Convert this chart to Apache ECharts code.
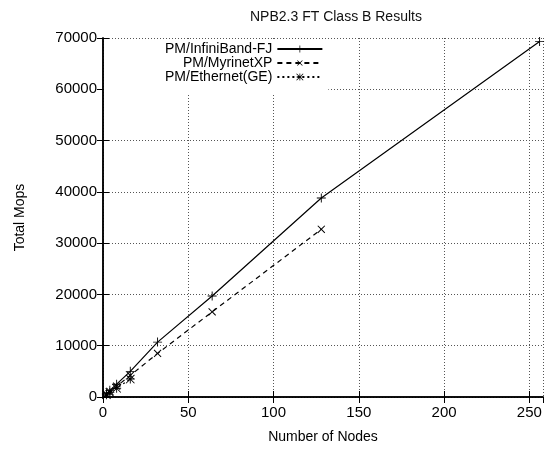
<!DOCTYPE html>
<html>
<head>
<meta charset="utf-8">
<title>NPB2.3 FT Class B Results</title>
<script src="https://cdn.jsdelivr.net/npm/echarts@6/dist/echarts.min.js"></script>
<style>
html,body{margin:0;padding:0;background:#fff}
#main{width:555px;height:449px}
</style>
</head>
<body>
<div id="main"></div>
<script>
// data
var nodes = [2, 4, 8, 16, 32, 64, 128, 256]
var infiniband = [650, 1300, 2500, 5000, 10700, 19700, 38800, 69300]
var myrinet = [550, 1100, 2100, 4200, 8500, 16600, 32700]
var ethernet = [450, 900, 1700, 3500]
var seriesNames = ['PM/InfiniBand-FJ', 'PM/MyrinetXP', 'PM/Ethernet(GE)']

var FONT = 'Liberation Sans'
var PLUS = 'path://M4.5,0H5.5V4.5H10V5.5H5.5V10H4.5V5.5H0V4.5H4.5Z'
var STAR = 'path://M4.5,0H5.5V10H4.5Z M0,4.5H10V5.5H0Z M0.7,0L10,9.3L9.3,10L0,0.7Z M9.3,0L10,0.7L0.7,10L0,9.3Z'

function pairs(xs, ys){   // [x,y] points for a value axis
	var out = []
	for (var i = 0; i < ys.length; i++) out.push([xs[i], ys[i]])
	return out
}

function borderAxis(extra){
	var ax = {
		type: 'value',
		axisLine: {show: true, lineStyle: {color: '#000', width: 1.5}},
		axisTick: {show: true, inside: true, length: 6, lineStyle: {color: '#000'}},
		axisLabel: {show: false},
		splitLine: {show: false}
	}
	for (var k in extra) ax[k] = extra[k]
	return ax
}

var gridLine = {show: true, lineStyle: {color: '#555', width: 1, type: [1, 2]}}

var option = {
	animation: false,
	backgroundColor: '#fff',
	textStyle: {fontFamily: FONT, color: '#000'},
	title: {
		text: 'NPB2.3 FT Class B Results',
		left: 245,
		top: 5,
		textStyle: {fontFamily: FONT, fontSize: 14, fontWeight: 'normal', color: '#111'}
	},
	grid: {left: 103, right: 12, top: 38, bottom: 52, containLabel: false},
	legend: {
		orient: 'vertical',
		align: 'right',
		left: 104,
		top: 40,
		padding: [2, 5, 10, 61],
		itemGap: 0,
		itemWidth: 45,
		itemHeight: 9,
		backgroundColor: '#fff',
		textStyle: {fontFamily: FONT, fontSize: 14, color: '#000'},
		data: seriesNames
	},
	xAxis: [
		borderAxis({
			min: 0, max: 258, interval: 50,
			name: 'Number of Nodes',
			nameLocation: 'middle',
			nameGap: 33,
			nameTextStyle: {fontFamily: FONT, fontSize: 14, color: '#000', verticalAlign: 'top'},
			axisLabel: {show: true, margin: 8, fontFamily: FONT, fontSize: 15, color: '#000', showMaxLabel: false},
			splitLine: gridLine
		}),
		borderAxis({min: 0, max: 258, interval: 50, position: 'top'})
	],
	yAxis: [
		borderAxis({
			min: 0, max: 70000, interval: 10000,
			name: 'Total Mops',
			nameLocation: 'middle',
			nameGap: 76,
			nameTextStyle: {fontFamily: FONT, fontSize: 14, color: '#000'},
			axisLabel: {show: true, margin: 6, fontFamily: FONT, fontSize: 15, color: '#000',
				formatter: function(v){ return String(v) }},
			splitLine: gridLine
		}),
		borderAxis({min: 0, max: 70000, interval: 10000, position: 'right'})
	],
	series: [{
		name: seriesNames[0],
		type: 'line',
		data: pairs(nodes, infiniband),
		symbol: PLUS,
		symbolSize: 9,
		itemStyle: {color: '#000'},
		lineStyle: {color: '#000', width: 1.2, type: 'solid'}
	},{
		name: seriesNames[1],
		type: 'line',
		data: pairs(nodes, myrinet),
		symbol: PLUS,
		symbolSize: 10,
		symbolRotate: 45,
		itemStyle: {color: '#000'},
		lineStyle: {color: '#000', width: 1.2, type: [5, 4]}
	},{
		name: seriesNames[2],
		type: 'line',
		data: pairs(nodes, ethernet),
		symbol: STAR,
		symbolSize: 9,
		itemStyle: {color: '#000'},
		lineStyle: {color: '#000', width: 1.2, type: [2, 3]}
	}]
}

var myChart = echarts.init(document.getElementById('main'))
myChart.setOption(option)
</script>
</body>
</html>
